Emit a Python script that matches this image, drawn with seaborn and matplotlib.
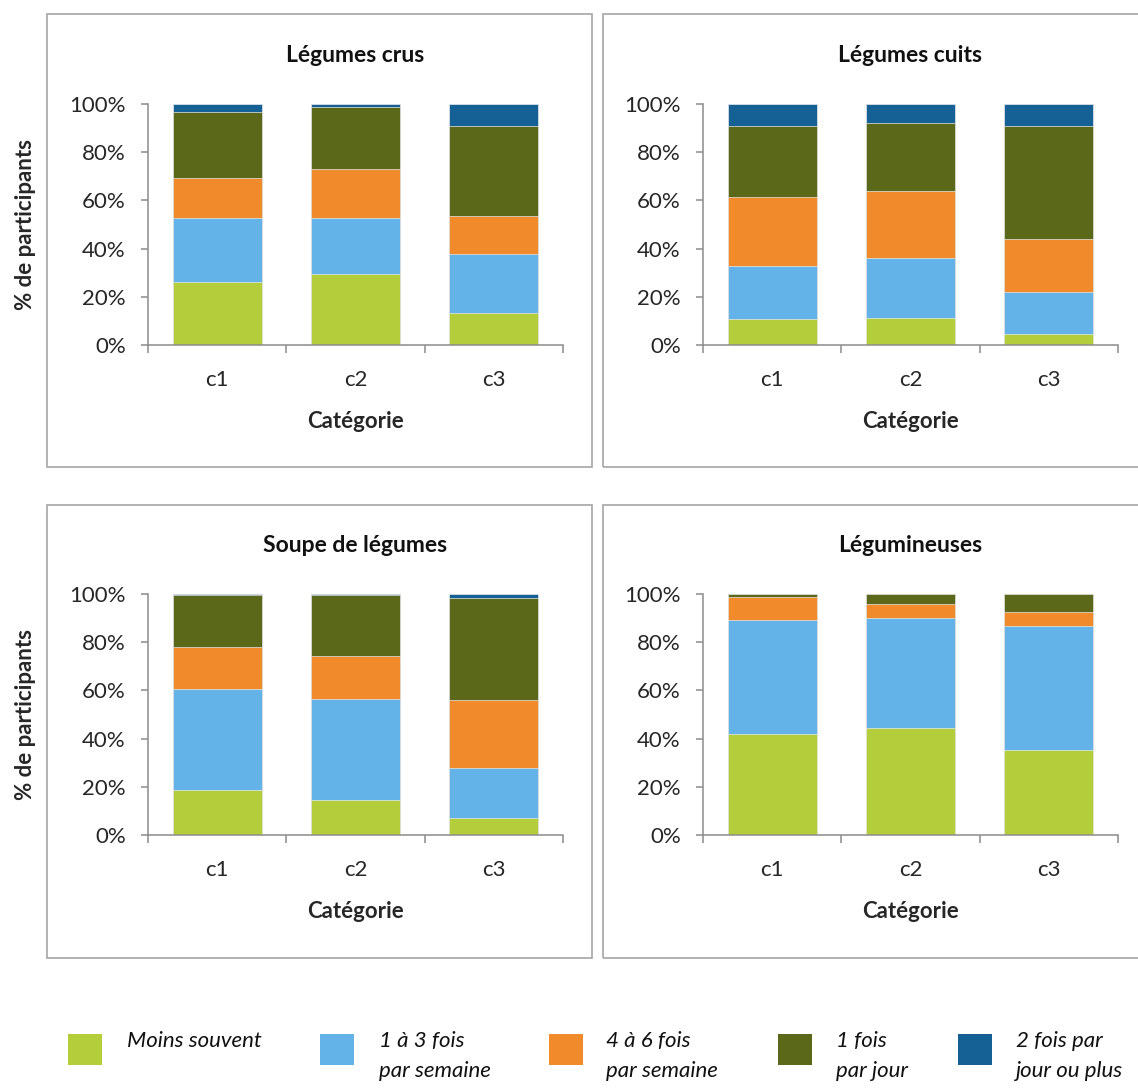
import numpy as np
import pandas as pd
import seaborn as sns
import matplotlib.pyplot as plt
from matplotlib.patches import Rectangle
from matplotlib.ticker import PercentFormatter, FixedLocator

# Données : % de participants par fréquence de consommation
categories = ["c1", "c2", "c3"]
frequences = ["Moins souvent", "1 à 3 fois\npar semaine", "4 à 6 fois\npar semaine",
              "1 fois\npar jour", "2 fois par\njour ou plus"]
couleurs = ["#b3ce3a", "#63b2e8", "#f08a2a", "#5b6719", "#156195"]
titres = ["Légumes crus", "Légumes cuits", "Soupe de légumes", "Légumineuses"]

# une ligne par fréquence, une colonne par catégorie
legumes_crus = [[26.3, 29.6, 13.1],
                [26.6, 23.3, 24.7],
                [16.3, 20.0, 15.8],
                [27.3, 25.7, 37.4],
                [3.5, 1.4, 9.0]]
legumes_cuits = [[10.8, 11.1, 4.6],
                 [21.8, 24.9, 17.5],
                 [28.8, 27.7, 21.7],
                 [29.6, 28.5, 47.2],
                 [9.0, 7.8, 9.0]]
soupe = [[18.7, 14.6, 7.1],
         [42.0, 41.9, 20.7],
         [17.5, 17.8, 28.3],
         [21.2, 25.1, 42.2],
         [0.6, 0.6, 1.7]]
legumineuses = [[41.8, 44.6, 35.3],
                [47.6, 45.5, 51.5],
                [9.2, 5.6, 5.7],
                [1.4, 4.3, 7.5],
                [0.0, 0.0, 0.0]]
panneaux = [legumes_crus, legumes_cuits, soupe, legumineuses]

sns.set_style("white")
plt.rcParams['font.family'] = ['Lato', 'DejaVu Sans']
plt.rcParams['text.color'] = '#111111'

W, H = 1138, 1088
fig = plt.figure(figsize=(W / 100, H / 100), dpi=100)

gris = "#8c8c8c"
taille = 16
# positions en pixels : (gauche, haut) des axes
positions = [(148, 104), (703, 104), (148, 594), (703, 594)]
cadres = [(47, 14, 592, 467), (603, 14, 1150, 467), (47, 505, 592, 958), (603, 505, 1150, 958)]
aw, ah = 415, 241

for k, (donnees, titre) in enumerate(zip(panneaux, titres)):
    x0, y0, x1, y1 = cadres[k]
    fig.add_artist(Rectangle((x0 / W, 1 - y1 / H), (x1 - x0) / W, (y1 - y0) / H,
                             transform=fig.transFigure, fill=False,
                             edgecolor="#a6a6a6", lw=1.2))
    px, py = positions[k]
    ax = fig.add_axes([px / W, 1 - (py + ah) / H, aw / W, ah / H])

    valeurs = np.array(donnees)
    cumul = np.cumsum(valeurs, axis=0)
    # barres empilées : on trace du sommet vers la base
    for i in range(len(frequences) - 1, -1, -1):
        df = pd.DataFrame({"categorie": categories, "cumul": cumul[i]})
        sns.barplot(data=df, x="categorie", y="cumul", color=couleurs[i],
                    width=0.645, edgecolor="#e8e8e8", linewidth=0.5,
                    saturation=1, ax=ax)

    ax.set_ylim(0, 100)
    ax.set_xlim(-0.5, 2.5)
    ax.set_yticks([0, 20, 40, 60, 80, 100])
    ax.yaxis.set_major_formatter(PercentFormatter(decimals=0))
    ax.xaxis.set_minor_locator(FixedLocator([-0.5, 0.5, 1.5, 2.5]))
    ax.tick_params(axis="y", which="major", length=5, width=1.1, color=gris,
                   direction="out", pad=11, labelsize=taille, left=True)
    ax.tick_params(axis="x", which="major", length=0, pad=18, labelsize=taille)
    ax.tick_params(axis="x", which="minor", length=6, width=1.1, color=gris,
                   direction="out", bottom=True)
    for s in ["top", "right"]:
        ax.spines[s].set_visible(False)
    for s in ["left", "bottom"]:
        ax.spines[s].set_color(gris)
        ax.spines[s].set_linewidth(1.1)

    ax.set_xlabel("Catégorie", fontsize=taille, fontweight="bold", va="center")
    ax.xaxis.set_label_coords(0.5, -76 / ah)
    if k % 2 == 0:
        ax.set_ylabel("% de participants", fontsize=taille, fontweight="bold", va="center")
        ax.yaxis.set_label_coords(-(148 - 26) / aw, 0.5)
    else:
        ax.set_ylabel("")
    ax.text(0.5, 1 + 49 / ah, titre, transform=ax.transAxes, ha="center",
            va="center", fontsize=taille + 0.5, fontweight="bold")

# Légende en bas
carres_x = [68, 320, 549, 778, 958]
textes_x = [127, 379, 606, 836, 1016]
for i, lab in enumerate(frequences):
    fig.add_artist(Rectangle((carres_x[i] / W, 1 - 1065 / H), 34 / W, 31 / H,
                             transform=fig.transFigure, facecolor=couleurs[i],
                             edgecolor="none"))
    fig.text(textes_x[i] / W, 1 - 1031 / H, lab, fontsize=taille, style="italic",
             ha="left", va="top", linespacing=1.6)

fig.savefig("out.png", dpi=100)
